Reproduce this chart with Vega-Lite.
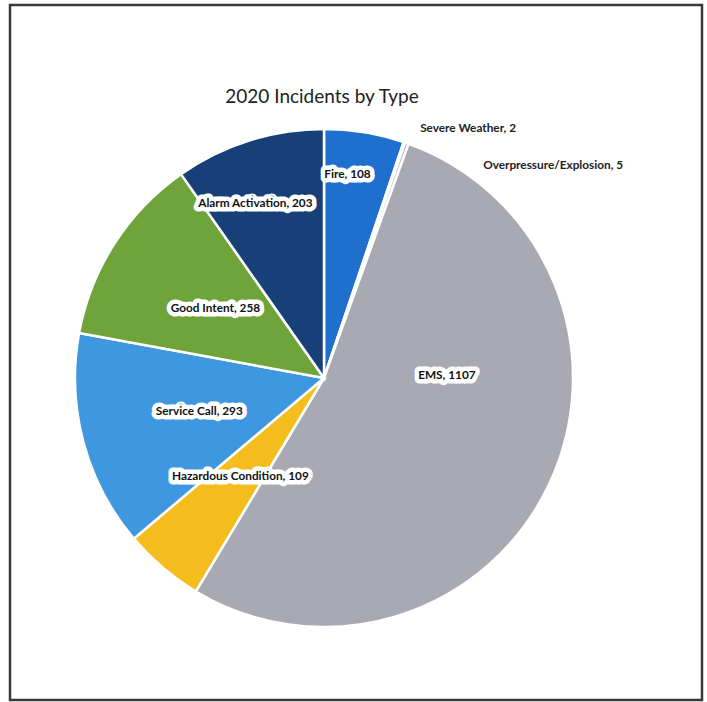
{
  "$schema": "https://vega.github.io/schema/vega-lite/v6.json",
  "width": 692,
  "height": 695,
  "autosize": {"type": "none"},
  "padding": {"left": 10, "top": 5, "right": 5, "bottom": 2},
  "background": "white",
  "view": {"stroke": "#3a3a3a", "strokeWidth": 2.5, "fill": "white"},
  "title": {
    "text": "2020 Incidents by Type",
    "font": "Lato",
    "fontSize": 19,
    "fontWeight": "normal",
    "color": "#222222",
    "anchor": "middle",
    "offset": -102,
    "dx": -34
  },
  "data": {
    "values": [
      {"idx": 1, "type": "Fire", "count": 108, "label": "Fire, 108"},
      {"idx": 2, "type": "Severe Weather", "count": 2, "label": "Severe Weather, 2"},
      {"idx": 3, "type": "Overpressure/Explosion", "count": 5, "label": "Overpressure/Explosion, 5"},
      {"idx": 4, "type": "EMS", "count": 1107, "label": "EMS, 1107"},
      {"idx": 5, "type": "Hazardous Condition", "count": 109, "label": "Hazardous Condition, 109"},
      {"idx": 6, "type": "Service Call", "count": 293, "label": "Service Call, 293"},
      {"idx": 7, "type": "Good Intent", "count": 258, "label": "Good Intent, 258"},
      {"idx": 8, "type": "Alarm Activation", "count": 203, "label": "Alarm Activation, 203"}
    ]
  },
  "encoding": {
    "theta": {"field": "count", "type": "quantitative", "stack": true},
    "order": {"field": "idx", "type": "quantitative"},
    "detail": {"field": "type", "type": "nominal"}
  },
  "config": {
    "text": {"font": "Lato", "fontWeight": "bold", "fontSize": 11.8, "baseline": "middle"}
  },
  "layer": [
    {
      "mark": {"type": "arc", "outerRadius": 249, "stroke": "white", "strokeWidth": 2.5, "xOffset": -32, "yOffset": 25.5},
      "encoding": {
        "color": {
          "field": "type",
          "type": "nominal",
          "legend": null,
          "scale": {
            "domain": ["Fire", "Severe Weather", "Overpressure/Explosion", "EMS", "Hazardous Condition", "Service Call", "Good Intent", "Alarm Activation"],
            "range": ["#1f6fcf", "#e8c66a", "#b4b4bf", "#a9a9b4", "#f4bd1d", "#3f97df", "#6ea43a", "#173f78"]
          }
        }
      }
    },
    {
      "mark": {"type": "text", "radius": 129, "xOffset": -32, "yOffset": 25.5, "stroke": "white", "strokeWidth": 9, "strokeJoin": "round", "fill": "white"},
      "encoding": {"text": {"condition": {"test": "indexof(['Good Intent','Service Call','Hazardous Condition'], datum.type) >= 0", "field": "label"}, "value": ""}}
    },
    {
      "mark": {"type": "text", "radius": 129, "xOffset": -32, "yOffset": 25.5, "fill": "#111111"},
      "encoding": {"text": {"condition": {"test": "indexof(['Good Intent','Service Call','Hazardous Condition'], datum.type) >= 0", "field": "label"}, "value": ""}}
    },
    {
      "mark": {"type": "text", "radius": 207, "dx": -10, "xOffset": -32, "yOffset": 25.5, "stroke": "white", "strokeWidth": 9, "strokeJoin": "round", "fill": "white"},
      "encoding": {"text": {"condition": {"test": "datum.type === 'Fire'", "field": "label"}, "value": ""}}
    },
    {
      "mark": {"type": "text", "radius": 207, "dx": -10, "xOffset": -32, "yOffset": 25.5, "fill": "#111111"},
      "encoding": {"text": {"condition": {"test": "datum.type === 'Fire'", "field": "label"}, "value": ""}}
    },
    {
      "mark": {"type": "text", "radius": 188, "dx": -12, "dy": 4, "xOffset": -32, "yOffset": 25.5, "stroke": "white", "strokeWidth": 9, "strokeJoin": "round", "fill": "white"},
      "encoding": {"text": {"condition": {"test": "datum.type === 'Alarm Activation'", "field": "label"}, "value": ""}}
    },
    {
      "mark": {"type": "text", "radius": 188, "dx": -12, "dy": 4, "xOffset": -32, "yOffset": 25.5, "fill": "#111111"},
      "encoding": {"text": {"condition": {"test": "datum.type === 'Alarm Activation'", "field": "label"}, "value": ""}}
    },
    {
      "mark": {"type": "text", "radius": 125, "dx": 10, "dy": -57, "xOffset": -32, "yOffset": 25.5, "stroke": "white", "strokeWidth": 9, "strokeJoin": "round", "fill": "white"},
      "encoding": {"text": {"condition": {"test": "datum.type === 'EMS'", "field": "label"}, "value": ""}}
    },
    {
      "mark": {"type": "text", "radius": 125, "dx": 10, "dy": -57, "xOffset": -32, "yOffset": 25.5, "fill": "#111111"},
      "encoding": {"text": {"condition": {"test": "datum.type === 'EMS'", "field": "label"}, "value": ""}}
    },
    {
      "mark": {"type": "text", "radius": 264, "dx": 11, "xOffset": -32, "yOffset": 25.5, "align": "left", "fill": "#222222"},
      "encoding": {"text": {"condition": {"test": "datum.type === 'Severe Weather'", "field": "label"}, "value": ""}}
    },
    {
      "mark": {"type": "text", "radius": 226, "dx": 84, "xOffset": -32, "yOffset": 25.5, "align": "left", "fill": "#222222"},
      "encoding": {"text": {"condition": {"test": "datum.type === 'Overpressure/Explosion'", "field": "label"}, "value": ""}}
    }
  ]
}
